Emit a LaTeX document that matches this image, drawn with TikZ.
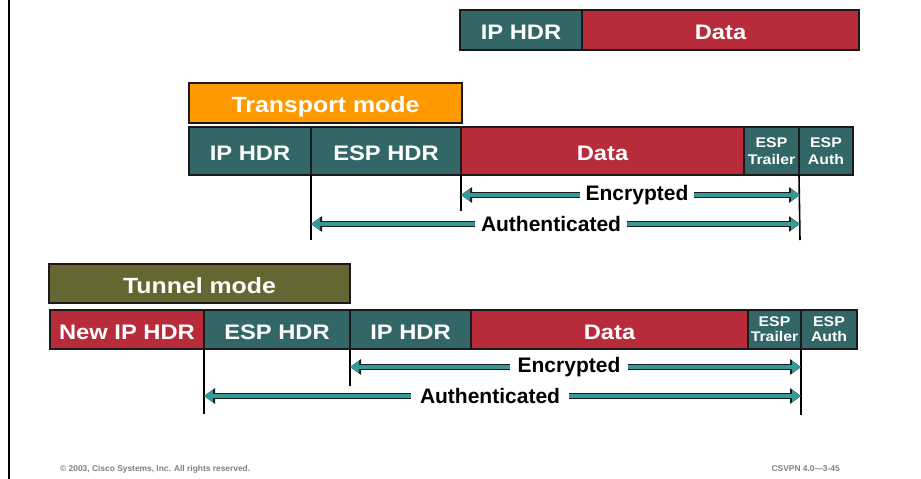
\documentclass[tikz,border=0pt]{standalone}
\usepackage{fontspec}
\setmainfont{Liberation Sans}
\newfontfamily\widefont[FakeStretch=1.13]{Liberation Sans}
\usetikzlibrary{arrows.meta}
\definecolor{hdr}{HTML}{336666}
\definecolor{dat}{HTML}{B82B3A}
\definecolor{orng}{HTML}{FF9900}
\definecolor{olive}{HTML}{666633}
\definecolor{arw}{HTML}{339999}
\definecolor{edge}{HTML}{1A1A1A}
\tikzset{
  pktbase/.style={draw=edge, line width=1.3pt, inner sep=0pt, outer sep=0pt, anchor=north west,
    text=white, align=center},
  pkt/.style={pktbase, font=\widefont\fontsize{21}{24}\selectfont\bfseries, text height=19pt, text depth=0pt},
  modebox/.style={pkt, font=\widefont\fontsize{22}{24}\selectfont\bfseries},
  hdrbox/.style={pkt, fill=hdr},
  datbox/.style={pkt, fill=dat},
  smallbox/.style={pktbase, fill=hdr, font=\widefont\fontsize{14}{17}\selectfont\bfseries},
  lbl/.style={inner sep=5pt, font=\fontsize{21}{24}\selectfont\bfseries, text=black},
  vline/.style={draw=black, line width=1.6pt},
  shade/.style={draw=edge, line width=6pt, -{Triangle[length=11pt,width=15pt]}},
  fat/.style={draw=arw, line width=3.8pt, -{Triangle[length=9pt,width=11.5pt]}},
  foot/.style={text=gray, font=\fontsize{8.4}{10}\selectfont\bfseries, inner sep=0pt}
}
\newcommand{\fatarrow}[2]{%
  \draw[shade] #1 -- #2;
  \draw[fat] #1 -- #2;}
\begin{document}
\begin{tikzpicture}[x=1pt,y=-1pt]
\useasboundingbox (0,0) rectangle (921,479);
\fill[white] (0,0) rectangle (921,479);
\draw[black, line width=2pt] (9,0) -- (9,479);

% original packet
\node[hdrbox, minimum width=122, minimum height=40] (o_ip) at (460,10) {IP HDR};
\node[datbox, minimum width=277, minimum height=40] (o_data) at (582,10) {Data};

% transport mode
\node[modebox, fill=orng, minimum width=273, minimum height=40] (tmode) at (189,83) {Transport mode};
\node[hdrbox, minimum width=122, minimum height=48] (t_ip) at (189,127) {IP HDR};
\node[hdrbox, minimum width=150, minimum height=48] (t_esp) at (311,127) {ESP HDR};
\node[datbox, minimum width=283, minimum height=48] (t_data) at (461,127) {Data};
\node[smallbox, minimum width=55, minimum height=48] (t_trl) at (744,127) {ESP\\Trailer};
\node[smallbox, minimum width=54, minimum height=48] (t_auth) at (799,127) {ESP\\Auth};

\coordinate (tv1) at (311,240);
\coordinate (tv2) at (461,211);
\coordinate (tv3) at (800,240);
\draw[vline] (t_esp.south west) -- (tv1);
\draw[vline] (t_data.south west) -- (tv2);
\draw[vline] (t_auth.south west) -- (tv3);

\node[lbl] (t_enc) at (637,195) {Encrypted};
\node[lbl, inner sep=6pt] (t_aut) at (551,224) {Authenticated};
\fatarrow{(t_enc.west)}{(tv2 |- t_enc.west)}
\fatarrow{(t_enc.east)}{(tv3 |- t_enc.east)}
\fatarrow{(t_aut.west)}{(tv1 |- t_aut.west)}
\fatarrow{(t_aut.east)}{(tv3 |- t_aut.east)}

% tunnel mode
\node[modebox, fill=olive, minimum width=301, minimum height=39] (nmode) at (49,264) {Tunnel mode};
\node[datbox, minimum width=154, minimum height=39] (n_new) at (50,310) {New IP HDR};
\node[hdrbox, minimum width=146, minimum height=39] (n_esp) at (204,310) {ESP HDR};
\node[hdrbox, minimum width=121, minimum height=39] (n_ip) at (350,310) {IP HDR};
\node[datbox, minimum width=277, minimum height=39] (n_data) at (471,310) {Data};
\node[smallbox, minimum width=53, minimum height=39] (n_trl) at (748,310) {ESP\\[-2pt]Trailer};
\node[smallbox, minimum width=56, minimum height=39] (n_auth) at (801,310) {ESP\\[-2pt]Auth};

\coordinate (nv1) at (204,414);
\coordinate (nv2) at (350,386);
\coordinate (nv3) at (801,415);
\draw[vline] (n_esp.south west) -- (nv1);
\draw[vline] (n_ip.south west) -- (nv2);
\draw[vline] (n_auth.south west) -- (nv3);

\node[lbl, inner sep=7pt] (n_enc) at (569,367) {Encrypted};
\node[lbl, inner sep=9pt] (n_aut) at (490,396) {Authenticated};
\fatarrow{(n_enc.west)}{(nv2 |- n_enc.west)}
\fatarrow{(n_enc.east)}{(nv3 |- n_enc.east)}
\fatarrow{(n_aut.west)}{(nv1 |- n_aut.west)}
\fatarrow{(n_aut.east)}{(nv3 |- n_aut.east)}

% footer
\node[foot, anchor=west] (copy) at (60,469) {© 2003, Cisco Systems, Inc. All rights reserved.};
\node[foot, anchor=east] (code) at (840,469) {CSVPN 4.0—3-45};
\end{tikzpicture}
\end{document}
